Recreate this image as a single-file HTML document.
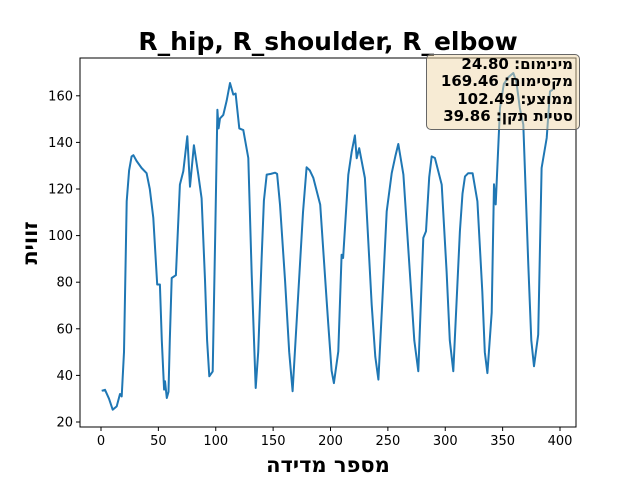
<!DOCTYPE html>
<html><head><meta charset="utf-8"><style>
body{margin:0;background:#fff;width:640px;height:480px;overflow:hidden;position:relative;font-family:"DejaVu Sans","Liberation Sans",sans-serif}
#stats{position:absolute;left:426px;top:54px;width:154px;height:76px;box-sizing:border-box;background:rgba(240,215,170,0.5);border:1px solid #666;border-radius:5px;direction:rtl;text-align:right;font-weight:bold;font-size:15px;line-height:17.3px;padding:1px 6px 0 0;white-space:nowrap}
</style></head><body>
<svg id="chart" width="640" height="480" style="position:absolute;left:0;top:0">
<text x="328" y="50" text-anchor="middle" font-size="25" font-weight="bold" font-family="DejaVu Sans, sans-serif">R_hip, R_shoulder, R_elbow</text>
<g id="plot"></g>
<rect x="80" y="58" width="496" height="369" fill="none" stroke="#000" stroke-width="1"/>
<text x="328" y="472" text-anchor="middle" font-size="21" font-weight="bold" font-family="DejaVu Sans, Noto Sans CJK JP, sans-serif" direction="rtl">מספר מדידה</text>
<text transform="translate(37,243) rotate(-90)" text-anchor="middle" font-size="21" font-weight="bold" font-family="DejaVu Sans, Noto Sans CJK JP, sans-serif">זווית</text>
</svg>
<div id="stats">
<div>מינימום: 24.80</div>
<div>מקסימום: 169.46</div>
<div>ממוצע: 102.49</div>
<div>סטיית תקן: 39.86</div>
</div>
<script>
const xs=[0.6,3.5,7,10.2,13.7,16.6,18,20,22.4,24.5,26.7,28.2,31,35.4,39.7,42.5,45.6,49,51.3,53,55,55.8,57.3,58.8,60,61.6,65.3,68.8,71.7,75.2,77.6,81,84.8,87.7,90.6,92.5,94.4,97.3,99.5,101.4,102.5,103.7,106.6,109.5,112.4,115.3,117.3,120.5,124,128.4,131.3,134.8,137,140,142,144.4,148,151.7,153.5,156,160.4,164,167,172,176,179.2,182,185,191,196.7,198.1,201,203,206.8,209.7,211,215.5,218.5,221.3,222.8,225,230,235.9,239,241.7,245,249,253.3,256.5,259.1,263.5,269.3,273,276.5,280.9,283.2,286,288.2,291,296.9,301.2,304,307,312.8,315,317.2,320,323.8,328,332.3,334.5,336.7,340.5,342.5,344,347.7,351,355,359.3,362,365,368,372.4,375,377.3,381,384,388.4,391.3,393.6];
const ys=[33.4,33.8,30,25.3,26.7,32,31,50,114.7,128,134,134.5,132,129,126.8,120,107.6,79,79,55,33.9,37.5,30.3,33,55,81.8,83,121.9,127.6,142.6,121,138.8,126.2,116,81,55,39.6,41.7,100,154,146,150.3,151.8,158,165.5,160.5,161,146,145.3,133.3,83.2,34.6,50,90,115,126.2,126.5,127,126.5,113.3,80.4,50,33.2,76,110,129.3,128,124.8,113.3,71.8,61.8,42,36.7,50.3,91.8,90.4,126.1,136,143,133.2,137.5,124.7,70.3,48,38.2,70,110.4,126.8,134,139.3,126.2,83.2,55,41.8,99,101.9,125,134,133.3,121.9,84.6,55,41.8,101.9,118,125.4,126.8,126.8,114.7,76,50,41,67,122,113.4,154.8,165,168,169.8,166,154.8,147.7,87.5,55,43.9,57.5,129,141.9,161.9,162.6];
const xTicks=[0,50,100,150,200,250,300,350,400];
const yTicks=[20,40,60,80,100,120,140,160];
const sx=v=>101+v*1.1475;
const sy=v=>422-(v-20)*2.33;
const NS='http://www.w3.org/2000/svg';
const g=document.getElementById('plot');
xTicks.forEach(t=>{
 const l=document.createElementNS(NS,'line');
 l.setAttribute('x1',sx(t));l.setAttribute('x2',sx(t));l.setAttribute('y1',427);l.setAttribute('y2',431);l.setAttribute('stroke','#000');
 
 
 g.appendChild(l);
 const tx=document.createElementNS(NS,'text');
 tx.setAttribute('x',sx(t));tx.setAttribute('y',445);tx.setAttribute('text-anchor','middle');tx.setAttribute('font-size','13');tx.setAttribute('font-family','DejaVu Sans, sans-serif');
 tx.textContent=t;
 
 
 g.appendChild(tx);
});
yTicks.forEach(t=>{
 const l=document.createElementNS(NS,'line');
 l.setAttribute('x1',76);l.setAttribute('x2',80);l.setAttribute('y1',sy(t));l.setAttribute('y2',sy(t));l.setAttribute('stroke','#000');
 
 
 g.appendChild(l);
 const tx=document.createElementNS(NS,'text');
 tx.setAttribute('x',73);tx.setAttribute('y',sy(t)+4.5);tx.setAttribute('text-anchor','end');tx.setAttribute('font-size','13');tx.setAttribute('font-family','DejaVu Sans, sans-serif');
 tx.textContent=t;
 
 
 g.appendChild(tx);
});
const p=document.createElementNS(NS,'path');
p.setAttribute('d',xs.map((x,i)=>(i?'L':'M')+sx(x).toFixed(1)+','+sy(ys[i]).toFixed(1)).join(''));
p.setAttribute('fill','none');p.setAttribute('stroke','#1f77b4');p.setAttribute('stroke-width','2');p.setAttribute('stroke-linejoin','round');


g.appendChild(p);
</script>
</body></html>
